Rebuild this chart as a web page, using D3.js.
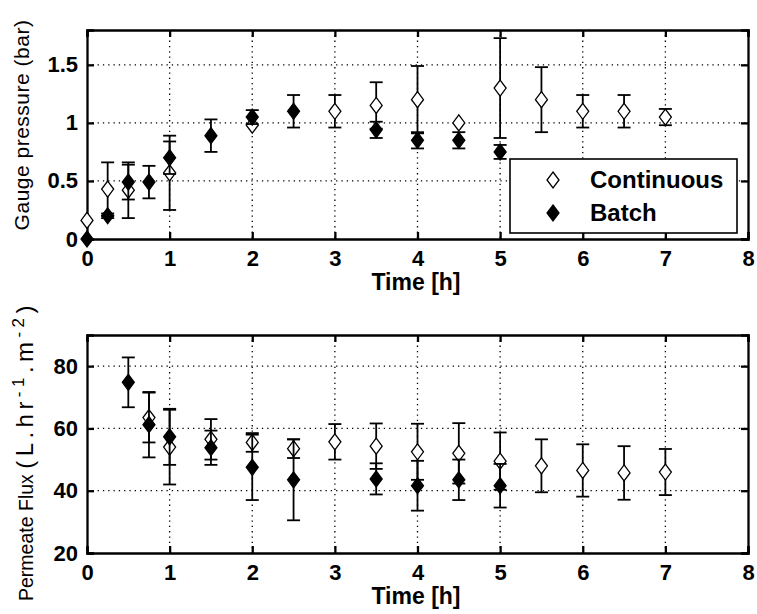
<!DOCTYPE html>
<head>
<meta charset="utf-8">
<style>
  body { margin: 0; background: #fff; }
  svg text { font-family: 'Liberation Sans', Arial, sans-serif; font-weight: bold; fill: #000; }
  .grid line { stroke: #000; stroke-width: 1.3; stroke-dasharray: 1.3,4; }
  .err line { stroke: #000; stroke-width: 1.8; }
</style>
<title>Gauge pressure and permeate flux</title>
</head>
<body>
<svg width="757" height="614"></svg>
<script src="https://cdn.jsdelivr.net/npm/d3@7"></script>
<script>

// top panel: gauge pressure (bar)
var pContT   = [0, 0.25, 0.5, 1, 2, 3, 3.5, 4, 4.5, 5, 5.5, 6, 6.5, 7];
var pContV   = [0.16, 0.43, 0.42, 0.57, 0.98, 1.1, 1.15, 1.2, 1.0, 1.3, 1.2, 1.1, 1.1, 1.05];
var pContE   = [0, 0.23, 0.24, 0.32, 0, 0.14, 0.2, 0.29, 0, 0.43, 0.28, 0.14, 0.14, 0.07];
var pBatchT  = [0, 0.25, 0.5, 0.75, 1, 1.5, 2, 2.5, 3.5, 4, 4.5, 5];
var pBatchV  = [0, 0.2, 0.49, 0.49, 0.7, 0.89, 1.05, 1.1, 0.94, 0.85, 0.85, 0.75];
var pBatchE  = [0, 0.02, 0.15, 0.14, 0.14, 0.14, 0.06, 0.14, 0.07, 0.07, 0.07, 0.06];

// bottom panel: permeate flux (L.hr-1.m-2)
var fContT   = [0.75, 1, 1.5, 2, 2.5, 3, 3.5, 4, 4.5, 5, 5.5, 6, 6.5, 7];
var fContV   = [63.5, 54, 56.5, 55.5, 53.5, 55.7, 54.3, 52.5, 52, 49.5, 48, 46.5, 45.7, 46];
var fContE   = [8, 12, 6.5, 3, 3, 5.7, 7.3, 9, 9.7, 9.2, 8.5, 8.4, 8.6, 7.4];
var fBatchT  = [0.5, 0.75, 1, 1.5, 2, 2.5, 3.5, 4, 4.5, 5];
var fBatchV  = [74.8, 61.2, 57.3, 53.8, 47.5, 43.5, 43.8, 41.6, 43.5, 41.6];
var fBatchE  = [8, 10.5, 9, 5.5, 10.5, 13, 5, 8, 6.5, 7];

var xTicks   = [0, 1, 2, 3, 4, 5, 6, 7, 8];
var pTicks   = [0, 0.5, 1, 1.5];
var fTicks   = [20, 40, 60, 80];

var svg = d3.select("svg");
var left = 87, right = 748;
var diamond = "M0,-8L6,0L0,8L-6,0Z";

function rows(t, v, e) {
  return t.map(function(d, i) { return {t: d, v: v[i], e: e[i]}; });
}

function panel(top, bottom, yDomain, yTicks, yFmt, cont, batch) {
  var x = d3.scaleLinear().domain([0, 8]).range([left, right]);
  var y = d3.scaleLinear().domain(yDomain).range([bottom, top]);
  var g = svg.append("g");

  // dotted grid
  var grid = g.append("g").attr("class", "grid");
  grid.selectAll(".vx").data(xTicks.slice(1, -1)).enter().append("line")
    .attr("x1", function(d) { return x(d); }).attr("x2", function(d) { return x(d); })
    .attr("y1", top).attr("y2", bottom);
  grid.selectAll(".hy").data(yTicks.slice(1)).enter().append("line")
    .attr("x1", left).attr("x2", right)
    .attr("y1", function(d) { return y(d); }).attr("y2", function(d) { return y(d); });

  // axes, ticks pointing inward on all four sides
  var tk = 7;
  g.append("g").attr("transform", "translate(0," + bottom + ")")
    .call(d3.axisBottom(x).tickValues(xTicks).tickSize(-tk).tickPadding(11).tickFormat(d3.format("d")));
  g.append("g").attr("transform", "translate(0," + top + ")")
    .call(d3.axisTop(x).tickValues(xTicks).tickSize(-tk).tickFormat(""));
  g.append("g").attr("transform", "translate(" + left + ",0)")
    .call(d3.axisLeft(y).tickValues(yTicks).tickSize(-tk).tickPadding(9).tickFormat(yFmt));
  g.append("g").attr("transform", "translate(" + right + ",0)")
    .call(d3.axisRight(y).tickValues(yTicks).tickSize(-tk).tickFormat(""));
  g.selectAll(".domain").attr("stroke", "#000").attr("stroke-width", 2.3);
  g.selectAll(".tick line").attr("stroke", "#000").attr("stroke-width", 2.3);
  g.selectAll(".tick text").style("font-size", "22px").style("font-family", "'Liberation Sans', Arial, sans-serif").style("font-weight", "bold").attr("fill", "#000");

  function series(data, filled) {
    var s = g.append("g");
    var eb = s.selectAll(".e").data(data.filter(function(d) { return d.e > 0; })).enter().append("g").attr("class", "err");
    eb.append("line")
      .attr("x1", function(d) { return x(d.t); }).attr("x2", function(d) { return x(d.t); })
      .attr("y1", function(d) { return y(d.v - d.e); }).attr("y2", function(d) { return y(d.v + d.e); });
    [-1, 1].forEach(function(sg) {
      eb.append("line")
        .attr("x1", function(d) { return x(d.t) - 6.5; }).attr("x2", function(d) { return x(d.t) + 6.5; })
        .attr("y1", function(d) { return y(d.v + sg * d.e); }).attr("y2", function(d) { return y(d.v + sg * d.e); });
    });
    s.selectAll(".m").data(data).enter().append("path")
      .attr("d", diamond)
      .attr("transform", function(d) { return "translate(" + x(d.t) + "," + y(d.v) + ")"; })
      .attr("fill", filled ? "#000" : "#fff")
      .attr("stroke", "#000").attr("stroke-width", 1.3);
  }
  series(cont, false);
  series(batch, true);

  svg.append("text").attr("x", 416).attr("y", bottom + 51)
    .attr("text-anchor", "middle").style("font-size", "23px").text("Time [h]");
  return {x: x, y: y};
}

panel(30, 239, [0, 1.8], pTicks, function(d) { return d; },
  rows(pContT, pContV, pContE), rows(pBatchT, pBatchV, pBatchE));
panel(335, 553, [20, 90], fTicks, d3.format("d"),
  rows(fContT, fContV, fContE), rows(fBatchT, fBatchV, fBatchE));

// y labels
svg.append("text").attr("transform", "translate(29,125) rotate(-90)")
  .attr("text-anchor", "middle").style("font-size", "21px").style("font-weight", "normal")
  .style("letter-spacing", "0.5px")
  .text("Gauge pressure (bar)");

var yl = svg.append("text").attr("transform", "translate(33,451) rotate(-90)")
  .attr("text-anchor", "middle").style("font-size", "19.5px").style("font-weight", "normal");
yl.append("tspan").text("Permeate Flux ");
var spread = yl.append("tspan").style("font-size", "24px");
spread.append("tspan").text("(L.hr");
spread.append("tspan").attr("dy", -9).style("font-size", "17px").text("-1");
spread.append("tspan").attr("dy", 9).text(".m");
spread.append("tspan").attr("dy", -9).style("font-size", "17px").text("-2");
spread.append("tspan").attr("dy", 9).text(")");
// the reference draws the bracketed unit wider; spread it to about the same overall length
var want = 300, have = yl.node().getComputedTextLength();
spread.style("letter-spacing", Math.max(0, (want - have) / 12) + "px");

// legend
var lg = svg.append("g");
lg.append("rect").attr("x", 510).attr("y", 159).attr("width", 227).attr("height", 74)
  .attr("fill", "#fff").attr("stroke", "#000").attr("stroke-width", 1.6);
var legendItems = [{name: "Continuous", filled: false}, {name: "Batch", filled: true}];
legendItems.forEach(function(d, i) {
  var cy = 180 + i * 33;
  lg.append("path").attr("d", diamond)
    .attr("transform", "translate(553," + cy + ")")
    .attr("fill", d.filled ? "#000" : "#fff").attr("stroke", "#000").attr("stroke-width", 1.3);
  lg.append("text").attr("x", 590).attr("y", cy + 8).style("font-size", "24px").text(d.name);
});

</script>
</body>
